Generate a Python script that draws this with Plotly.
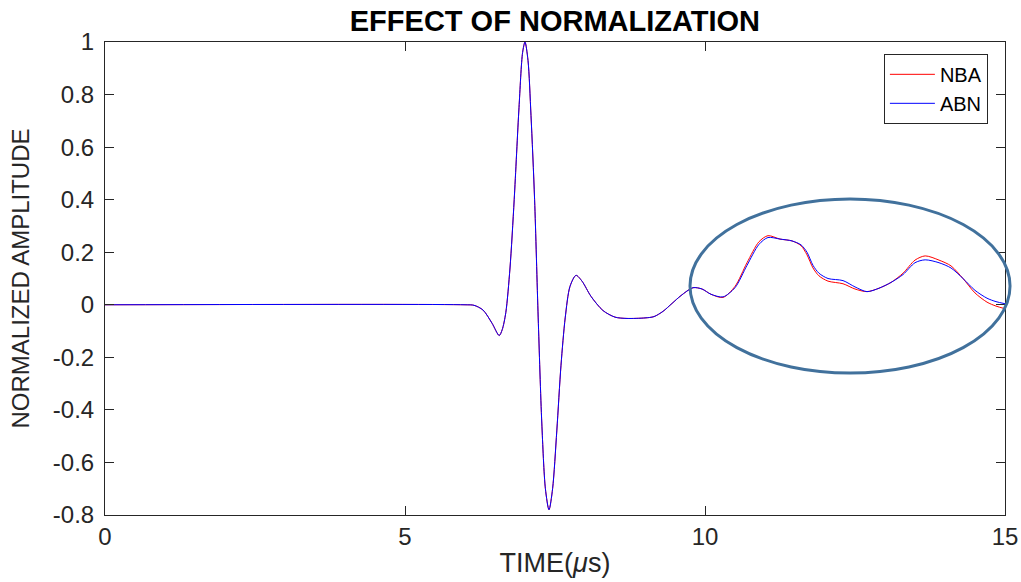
import plotly.graph_objects as go

# shared pulse part (both curves identical up to ~9.8 us)
t_common = [0.0, 6.0, 6.15, 6.3, 6.45, 6.57, 6.62, 6.68, 6.75, 6.82, 6.9, 6.96,
            7.0, 7.05, 7.1, 7.16, 7.22, 7.28, 7.34, 7.4, 7.46, 7.53, 7.6,
            7.67, 7.75, 7.85, 7.95, 8.1, 8.3, 8.5, 8.7, 9.0, 9.15, 9.3, 9.45,
            9.6]
a_common = [0.0, 0.0, -0.002, -0.02, -0.07, -0.117, -0.095, -0.03, 0.14, 0.40,
            0.75, 0.96, 1.0, 0.93, 0.72, 0.40, -0.05, -0.45, -0.70, -0.78,
            -0.70, -0.48, -0.23, -0.05, 0.07, 0.112, 0.09, 0.032, -0.022,
            -0.047, -0.052, -0.05, -0.045, -0.025, 0.005, 0.035]

t_tail = [9.8, 9.95, 10.1, 10.3, 10.5, 10.7, 10.9, 11.05, 11.25, 11.45, 11.6,
          11.7, 11.8, 11.9, 12.05, 12.3, 12.5, 12.7, 12.9, 13.1, 13.3, 13.5,
          13.67, 13.9, 14.1, 14.3, 14.5, 14.7, 14.85, 15.0]
nba_tail = [0.065, 0.06, 0.04, 0.028, 0.07, 0.16, 0.24, 0.263, 0.25, 0.243,
            0.225, 0.19, 0.14, 0.11, 0.09, 0.08, 0.06, 0.05, 0.063, 0.085,
            0.12, 0.17, 0.186, 0.17, 0.148, 0.10, 0.045, 0.01, -0.005, -0.015]
abn_tail = [0.065, 0.06, 0.04, 0.03, 0.065, 0.15, 0.23, 0.256, 0.25, 0.243,
            0.228, 0.20, 0.15, 0.12, 0.10, 0.092, 0.068, 0.05, 0.063, 0.085,
            0.115, 0.16, 0.171, 0.16, 0.14, 0.10, 0.055, 0.025, 0.012, 0.004]

time = t_common + t_tail
nba = a_common + nba_tail
abn = a_common + abn_tail

x_ticks = [0, 5, 10, 15]
y_ticks = [-0.8, -0.6, -0.4, -0.2, 0, 0.2, 0.4, 0.6, 0.8, 1]
y_tick_text = ["-0.8", "-0.6", "-0.4", "-0.2", "0", "0.2", "0.4", "0.6", "0.8", "1"]

FONT = "Liberation Sans, Arial, sans-serif"
AX = "#262626"

fig = go.Figure()
fig.add_trace(go.Scatter(x=time, y=nba, name="NBA", mode="lines",
                         line=dict(color="#ff0000", width=1, shape="spline", smoothing=0.8)))
fig.add_trace(go.Scatter(x=time, y=abn, name="ABN", mode="lines",
                         line=dict(color="#0000ff", width=1, shape="spline", smoothing=0.8)))

axis_common = dict(showline=True, linecolor=AX, linewidth=1, mirror="ticks",
                   ticks="inside", ticklen=9, tickcolor=AX, tickwidth=1,
                   showgrid=False, zeroline=False, automargin=False,
                   tickfont=dict(family=FONT, size=24, color=AX))

fig.update_xaxes(range=[0, 15], tickvals=x_ticks, ticktext=[str(v) for v in x_ticks],
                 title=dict(text="TIME(<i>μ</i>s)", font=dict(family=FONT, size=27, color=AX),
                            standoff=4),
                 **axis_common)
fig.update_yaxes(range=[-0.8, 1], tickvals=y_ticks, ticktext=y_tick_text,
                 ticklabelstandoff=5,
                 title=dict(text="NORMALIZED AMPLITUDE", font=dict(family=FONT, size=24, color=AX),
                            standoff=16),
                 **axis_common)

fig.add_shape(type="circle", xref="paper", yref="paper",
              x0=0.65, x1=1.0056, y0=0.300, y1=0.668,
              line=dict(color="#41719c", width=3), layer="above")

fig.update_layout(
    width=1021, height=582,
    margin=dict(l=105, r=16, t=42, b=67),
    plot_bgcolor="white", paper_bgcolor="white",
    title=dict(text="<b>EFFECT OF NORMALIZATION</b>", x=0.5435, xanchor="center",
               y=0.965, yanchor="middle", font=dict(family=FONT, size=29, color="#000000")),
    legend=dict(x=0.981, xanchor="right", y=0.975, yanchor="top",
                bordercolor=AX, borderwidth=1, bgcolor="white",
                font=dict(family=FONT, size=20, color="#000000"),
                tracegroupgap=0, itemwidth=45),
    showlegend=True,
)

fig.write_html("out.html", config={"displayModeBar": False},
               post_script="document.body.style.margin='0';document.body.style.overflow='hidden';")
